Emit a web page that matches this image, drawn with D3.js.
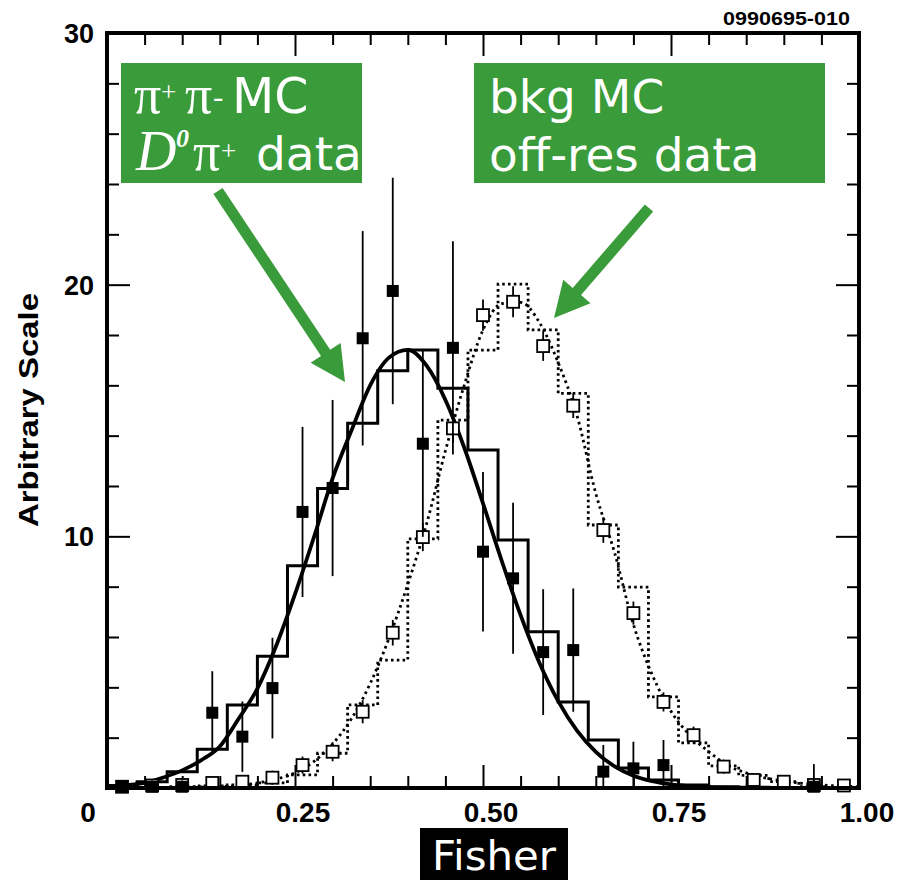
<!DOCTYPE html>
<html>
<head>
<meta charset="utf-8">
<script src="https://cdn.jsdelivr.net/npm/d3@7"></script>
<style>
  html, body { margin: 0; padding: 0; background: #fff; }
  svg { display: block; }
</style>
</head>
<body>
<svg id="chart" width="899" height="880"></svg>
<script>
// ---- Data ----------------------------------------------------------------
// Histogram bins: 25 bins of width 0.04 on the Fisher discriminant axis
const binEdges = d3.range(0, 25).map(k => k * 0.04);
const binWidth = 0.04;

// pi+pi- signal Monte Carlo (solid histogram)
const signalMC = [0.10, 0.25, 0.65, 1.54, 3.30, 5.24, 8.83, 11.90, 14.49, 16.58, 17.40, 15.88, 13.43,
                  9.85, 6.21, 3.42, 1.91, 0.79, 0.32, 0.12, 0.05, 0.03, 0.02, 0.00, 0.00];

// background Monte Carlo (dotted histogram)
const bkgMC = [0.00, 0.02, 0.05, 0.08, 0.12, 0.20, 0.52, 1.38, 3.30, 5.08, 9.90, 14.62, 17.40,
               20.02, 18.20, 15.68, 10.45, 7.98, 3.62, 1.79, 0.88, 0.50, 0.25, 0.05, 0.02];

// D0 pi+ data (filled squares) with errors
const signalData = [0.05, 0.05, 0.05, 2.99, 2.04, 3.97, 10.97, 11.92, 17.87, 19.75, 13.68, 17.49, 9.39,
                    8.33, 5.40, 5.48, 0.65, 0.78, 0.91, null, null, null, null, 0.05, null];
const signalErr  = [0.25, 0.25, 0.25, 1.65, 1.40, 2.00, 3.38, 3.50, 4.26, 4.50, 3.70, 4.24, 3.17,
                    3.00, 2.50, 2.45, 1.06, 1.06, 1.00, null, null, null, null, 0.90, null];

// off-resonance data (open squares) with errors
const bkgData = [0.05, 0.10, 0.12, 0.20, 0.25, 0.41, 0.91, 1.44, 3.03, 6.17, 9.97, 14.29, 18.79,
                 19.32, 17.56, 15.19, 10.25, 6.95, 3.42, 2.10, 0.85, 0.32, 0.25, 0.12, 0.10];
const bkgErr  = [0.05, 0.05, 0.08, 0.10, 0.10, 0.12, 0.18, 0.22, 0.30, 0.35, 0.40, 0.42, 0.46,
                 0.46, 0.43, 0.33, 0.35, 0.30, 0.22, 0.18, 0.12, 0.08, 0.07, 0.05, 0.05];

// fitted curves, sampled every 0.025
const fitX = d3.range(0, 41).map(i => i * 0.025);
const signalFit = [0.06, 0.11, 0.20, 0.42, 0.70, 1.10, 1.65, 2.75, 3.95, 5.65, 7.70, 9.95, 12.30,
                   14.20, 16.00, 17.10, 17.41, 16.78, 15.42, 13.53, 11.31, 9.02, 6.87, 4.98, 3.45,
                   2.28, 1.44, 0.86, 0.49, 0.27, 0.14, 0.07, 0.03, 0.01, 0.00, 0.00, 0.00, 0.00,
                   0.00, 0.00, 0.00];
const bkgFit = [0.00, 0.00, 0.01, 0.01, 0.02, 0.04, 0.06, 0.10, 0.20, 0.35, 0.60, 1.05, 1.75,
                2.75, 4.15, 5.95, 8.10, 10.50, 13.40, 16.00, 18.20, 19.25, 19.30, 18.50, 16.90,
                14.80, 11.70, 9.35, 6.50, 4.50, 3.05, 2.10, 1.45, 0.90, 0.60, 0.40, 0.28, 0.18,
                0.12, 0.08, 0.05];

// axis ticks and labels
const xMinorTicks = d3.range(1, 20).map(i => i * 0.05);
const xMajorTicks = [0.25, 0.50, 0.75];
const xTickLabels = ["0", "0.25", "0.50", "0.75", "1.00"];
const xLabelValues = [0, 0.25, 0.50, 0.75, 1.00];
const yMinorTicks = d3.range(1, 15).map(i => i * 2);
const yMajorTicks = [10, 20];
const yTickLabels = ["10", "20", "30"];
const yLabelValues = [10, 20, 30];

// ---- Layout --------------------------------------------------------------
const svg = d3.select("#chart");
const x = d3.scaleLinear().domain([0, 1]).range([107, 859]);
const y = d3.scaleLinear().domain([0, 30]).range([788, 33]);
const GREEN = "#399b39";
const sans = "'Liberation Sans', Arial, Helvetica, sans-serif";
const serif = "'Liberation Serif', 'Times New Roman', serif";
const tahoma = "'DejaVu Sans', Verdana, sans-serif";

// ---- Ticks (inward on all four sides) -----------------------------------
const isMajorX = v => xMajorTicks.some(m => Math.abs(m - v) < 1e-6);
function tickAxis(axis, values, size, transform) {
  const g = svg.append("g").attr("transform", transform)
    .call(axis.tickValues(values).tickSize(size).tickSizeOuter(0).tickFormat(""));
  g.select(".domain").remove();
  g.selectAll(".tick line").attr("stroke", "#000").attr("stroke-width", 2);
}
tickAxis(d3.axisBottom(x), xMinorTicks.filter(v => !isMajorX(v)), -12, `translate(0,${y(0)})`);
tickAxis(d3.axisBottom(x), xMajorTicks, -23, `translate(0,${y(0)})`);
tickAxis(d3.axisTop(x), xMinorTicks.filter(v => !isMajorX(v)), -12, `translate(0,${y(30)})`);
tickAxis(d3.axisTop(x), xMajorTicks, -23, `translate(0,${y(30)})`);
tickAxis(d3.axisLeft(y), yMinorTicks.filter(v => !yMajorTicks.includes(v)), -12, `translate(${x(0)},0)`);
tickAxis(d3.axisLeft(y), yMajorTicks, -23, `translate(${x(0)},0)`);
tickAxis(d3.axisRight(y), yMinorTicks.filter(v => !yMajorTicks.includes(v)), -12, `translate(${x(1)},0)`);
tickAxis(d3.axisRight(y), yMajorTicks, -23, `translate(${x(1)},0)`);

// ---- Histograms ----------------------------------------------------------
function histPoints(vals) {
  const pts = [[0, 0]];
  vals.forEach((v, k) => pts.push([binEdges[k], v]));
  pts.push([binEdges[binEdges.length - 1] + binWidth, vals[vals.length - 1]]);
  pts.push([1, 0]);
  return pts;
}
const stepLine = d3.line().x(d => x(d[0])).y(d => y(d[1])).curve(d3.curveStepAfter);

svg.append("path").datum(histPoints(bkgMC))
  .attr("d", stepLine).attr("fill", "none").attr("stroke", "#000")
  .attr("stroke-width", 2.8).attr("stroke-dasharray", "2.6,3.2");

// ---- Fitted curves -------------------------------------------------------
const fitLine = d3.line().x(d => x(d[0])).y(d => y(d[1])).curve(d3.curveMonotoneX);
svg.append("path").datum(fitX.map((v, i) => [v, bkgFit[i]]))
  .attr("d", fitLine).attr("fill", "none").attr("stroke", "#000")
  .attr("stroke-width", 2.8).attr("stroke-dasharray", "2.6,3.6");

svg.append("path").datum(histPoints(signalMC))
  .attr("d", stepLine).attr("fill", "none").attr("stroke", "#000")
  .attr("stroke-width", 3);

svg.append("path").datum(fitX.map((v, i) => [v, signalFit[i]]))
  .attr("d", fitLine).attr("fill", "none").attr("stroke", "#000")
  .attr("stroke-width", 3.8);

// ---- Data points ---------------------------------------------------------
const centers = binEdges.map(e => e + binWidth / 2);
const MK = 12;

const bkgPts = centers.map((c, k) => ({ c, v: bkgData[k], e: bkgErr[k] }));
svg.append("g").selectAll("line").data(bkgPts).join("line")
  .attr("x1", d => x(d.c)).attr("x2", d => x(d.c))
  .attr("y1", d => y(d.v + d.e) - MK / 2 + 2).attr("y2", d => Math.min(y(0), y(d.v - d.e) + MK / 2 - 2))
  .attr("stroke", "#000").attr("stroke-width", 1.8);
svg.append("g").selectAll("rect").data(bkgPts).join("rect")
  .attr("x", d => x(d.c) - MK / 2).attr("y", d => y(d.v) - MK / 2)
  .attr("width", MK).attr("height", MK)
  .attr("fill", "#fff").attr("stroke", "#000").attr("stroke-width", 1.8);

const sigPts = centers.map((c, k) => ({ c, v: signalData[k], e: signalErr[k] })).filter(d => d.v !== null);
svg.append("g").selectAll("line").data(sigPts).join("line")
  .attr("x1", d => x(d.c)).attr("x2", d => x(d.c))
  .attr("y1", d => y(d.v + d.e)).attr("y2", d => Math.min(y(0), y(d.v - d.e)))
  .attr("stroke", "#000").attr("stroke-width", 1.8);
svg.append("g").selectAll("rect").data(sigPts).join("rect")
  .attr("x", d => x(d.c) - MK / 2).attr("y", d => y(d.v) - MK / 2)
  .attr("width", MK).attr("height", MK).attr("fill", "#000");

// ---- Frame ---------------------------------------------------------------
svg.append("rect")
  .attr("x", x(0)).attr("y", y(30))
  .attr("width", x(1) - x(0)).attr("height", y(0) - y(30))
  .attr("fill", "none").attr("stroke", "#000").attr("stroke-width", 4);

// ---- Tick labels ---------------------------------------------------------
svg.append("g").selectAll("text").data(xLabelValues).join("text")
  .attr("x", d => d === 0 ? x(d) - 19 : x(d) + 8)
  .attr("y", 822)
  .attr("text-anchor", "middle")
  .attr("font-family", sans).attr("font-weight", "bold").attr("font-size", 28)
  .text((d, i) => xTickLabels[i]);

svg.append("g").selectAll("text").data(yLabelValues).join("text")
  .attr("x", 94).attr("y", d => y(d) + 10)
  .attr("text-anchor", "end")
  .attr("font-family", sans).attr("font-weight", "bold").attr("font-size", 27)
  .text((d, i) => yTickLabels[i]);

// axis titles
svg.append("text")
  .attr("transform", "translate(38,410) rotate(-90)")
  .attr("text-anchor", "middle")
  .attr("font-family", sans).attr("font-weight", "bold").attr("font-size", 28)
  .attr("textLength", 234).attr("lengthAdjust", "spacingAndGlyphs")
  .text("Arbitrary  Scale");

svg.append("rect").attr("x", 420).attr("y", 828).attr("width", 148).attr("height", 52).attr("fill", "#000");
svg.append("text")
  .attr("x", 494).attr("y", 870).attr("text-anchor", "middle")
  .attr("font-family", tahoma).attr("font-size", 41).attr("fill", "#fff")
  .attr("textLength", 124).attr("lengthAdjust", "spacingAndGlyphs")
  .text("Fisher");

svg.append("text")
  .attr("x", 723).attr("y", 25)
  .attr("font-family", sans).attr("font-weight", "bold").attr("font-size", 19)
  .attr("textLength", 127).attr("lengthAdjust", "spacingAndGlyphs")
  .text("0990695-010");

// ---- Annotation boxes and arrows ----------------------------------------
function arrow(x0, y0, x1, y1, shaftW, headL, headW) {
  const dx = x1 - x0, dy = y1 - y0, L = Math.hypot(dx, dy);
  const ux = dx / L, uy = dy / L, px = -uy, py = ux;
  const bx = x1 - ux * headL, by = y1 - uy * headL;
  const pts = [
    [x0 + px * shaftW / 2, y0 + py * shaftW / 2],
    [bx + px * shaftW / 2, by + py * shaftW / 2],
    [bx + px * headW / 2, by + py * headW / 2],
    [x1, y1],
    [bx - px * headW / 2, by - py * headW / 2],
    [bx - px * shaftW / 2, by - py * shaftW / 2],
    [x0 - px * shaftW / 2, y0 - py * shaftW / 2]
  ];
  svg.append("path").attr("d", d3.line()(pts) + "Z").attr("fill", GREEN);
}

svg.append("rect").attr("x", 121).attr("y", 63).attr("width", 241).attr("height", 120).attr("fill", GREEN);
svg.append("rect").attr("x", 474).attr("y", 63).attr("width", 351).attr("height", 120).attr("fill", GREEN);

const boxText = svg.append("g").attr("fill", "#fff");
boxText.append("text").attr("x", 134).attr("y", 113).attr("font-family", serif).attr("font-size", 54).text("π");
boxText.append("text").attr("x", 161).attr("y", 101).attr("font-family", serif).attr("font-size", 27).text("+");
boxText.append("text").attr("x", 185).attr("y", 113).attr("font-family", serif).attr("font-size", 54).text("π");
boxText.append("text").attr("x", 213).attr("y", 107).attr("font-family", serif).attr("font-size", 31).text("-");
boxText.append("text").attr("x", 232).attr("y", 113).attr("font-family", tahoma).attr("font-size", 49).text("MC");
boxText.append("text").attr("x", 136).attr("y", 170).attr("font-family", serif).attr("font-style", "italic").attr("font-size", 56).text("D");
boxText.append("text").attr("x", 176).attr("y", 147).attr("font-family", serif).attr("font-style", "italic").attr("font-weight", "bold").attr("font-size", 26).text("0");
boxText.append("text").attr("x", 193).attr("y", 170).attr("font-family", serif).attr("font-size", 54).text("π");
boxText.append("text").attr("x", 221).attr("y", 160).attr("font-family", serif).attr("font-size", 27).text("+");
boxText.append("text").attr("x", 256).attr("y", 170).attr("font-family", tahoma).attr("font-size", 47).text("data");

boxText.append("text").attr("x", 489).attr("y", 113).attr("font-family", tahoma).attr("font-size", 47).text("bkg MC");
boxText.append("text").attr("x", 489).attr("y", 171).attr("font-family", tahoma).attr("font-size", 47).text("off-res data");

arrow(218, 191, 345, 382, 11, 35, 36);
arrow(649, 208, 554, 318, 11, 35, 36);
</script>
</body>
</html>
